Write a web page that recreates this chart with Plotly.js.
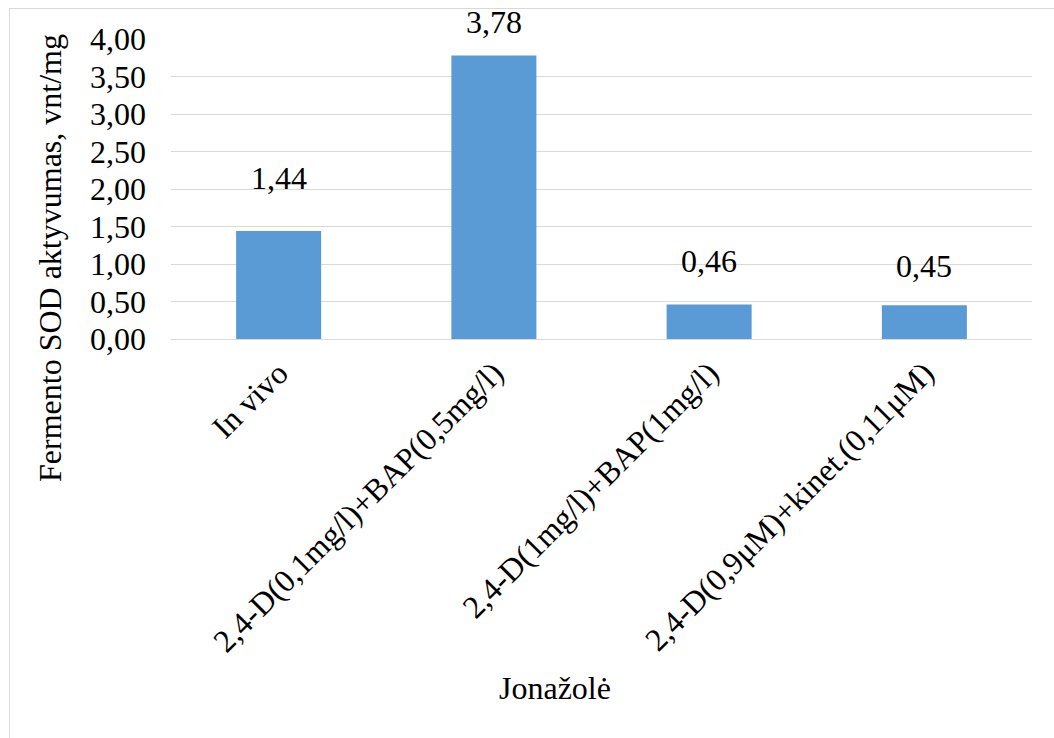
<!DOCTYPE html>
<html>
<head>
<meta charset="utf-8">
<script src="https://cdn.plot.ly/plotly-3.0.1.min.js"></script>
<style>
  html, body { margin: 0; padding: 0; background: #ffffff; }
  #wrap { position: relative; width: 1054px; height: 738px; overflow: hidden; }
  #warm { position: absolute; left: 200px; top: 500px; z-index: 0; font-family: 'Liberation Serif'; font-size: 32px; color: #000; }
  #chart { position: relative; z-index: 1; width: 1054px; height: 738px; }
  #chart text { font-family: 'Liberation Serif', 'Times New Roman', serif !important; }
  #frame { position: absolute; z-index: 2; left: 9px; top: 8px; width: 1100px; height: 800px;
           border-left: 1px solid #d9d9d9; border-top: 1px solid #d9d9d9; pointer-events: none; }
</style>
</head>
<body>
<div id="wrap">
  <div id="warm">Jonažolė 0123456789,μ In vivo</div>
  <div id="chart"></div>
  <div id="frame"></div>
</div>
<script>
const categories = [
  "In vivo",
  "2,4-D(0,1mg/l)+BAP(0,5mg/l)",
  "2,4-D(1mg/l)+BAP(1mg/l)",
  "2,4-D(0,9μM)+kinet.(0,11μM)"
];
const values = [1.44, 3.78, 0.46, 0.45];
const valueLabels = ["1,44", "3,78", "0,46", "0,45"];
const labelLift = [53, 34, 44, 39];

const serifFamily = 'Liberation Serif';
const textSize = 32;

const trace = {
  type: 'bar',
  x: categories,
  y: values,
  marker: { color: '#5B9BD5' },
  hoverinfo: 'none'
};

const annotations = categories.map((c, i) => ({
  x: c, y: values[i], xref: 'x', yref: 'y',
  text: valueLabels[i], showarrow: false,
  yanchor: 'middle', xanchor: 'center', yshift: labelLift[i],
  font: { family: serifFamily, size: textSize, color: '#000000' }
}));

annotations.push({
  xref: 'paper', yref: 'paper', x: (555 - 171) / 861, y: (738 - 688 - 399) / 300,
  text: 'Jonažolė', showarrow: false, xanchor: 'center', yanchor: 'middle',
  font: { family: serifFamily, size: textSize, color: '#000000' }
});
annotations.push({
  xref: 'paper', yref: 'paper', x: (50 - 171) / 861, y: (339 - 258) / 300,
  text: 'Fermento SOD aktyvumas, vnt/mg', showarrow: false, textangle: -90,
  xanchor: 'center', yanchor: 'middle',
  font: { family: serifFamily, size: textSize, color: '#000000' }
});

const layout = {
  width: 1054, height: 738,
  margin: { l: 171, r: 22, t: 39, b: 399 },
  paper_bgcolor: '#ffffff', plot_bgcolor: '#ffffff',
  separators: ', ',
  showlegend: false,
  bargap: 0.605,
  font: { family: serifFamily, size: textSize, color: '#000000' },
  xaxis: {
    type: 'category',
    tickangle: -45,
    ticks: '',
    showgrid: false,
    showline: false,
    tickfont: { family: serifFamily, size: textSize, color: '#000000' },
    ticklabelstandoff: 8
  },
  yaxis: {
    range: [0, 4],
    tickvals: [0, 0.5, 1, 1.5, 2, 2.5, 3, 3.5, 4],
    tickformat: '.2f',
    ticks: '',
    showgrid: true,
    gridcolor: '#d9d9d9',
    gridwidth: 1,
    zeroline: true,
    zerolinecolor: '#d9d9d9',
    zerolinewidth: 1,
    showline: false,
    tickfont: { family: serifFamily, size: textSize, color: '#000000' },
    ticklabelstandoff: 24
  },
  annotations: annotations
};

Plotly.newPlot('chart', [trace], layout, { displayModeBar: false });
if (document.fonts && document.fonts.load) {
  document.fonts.load('32px "Liberation Serif"').then(function () {
    Plotly.react('chart', [trace], layout, { displayModeBar: false });
  });
}
</script>
</body>
</html>
